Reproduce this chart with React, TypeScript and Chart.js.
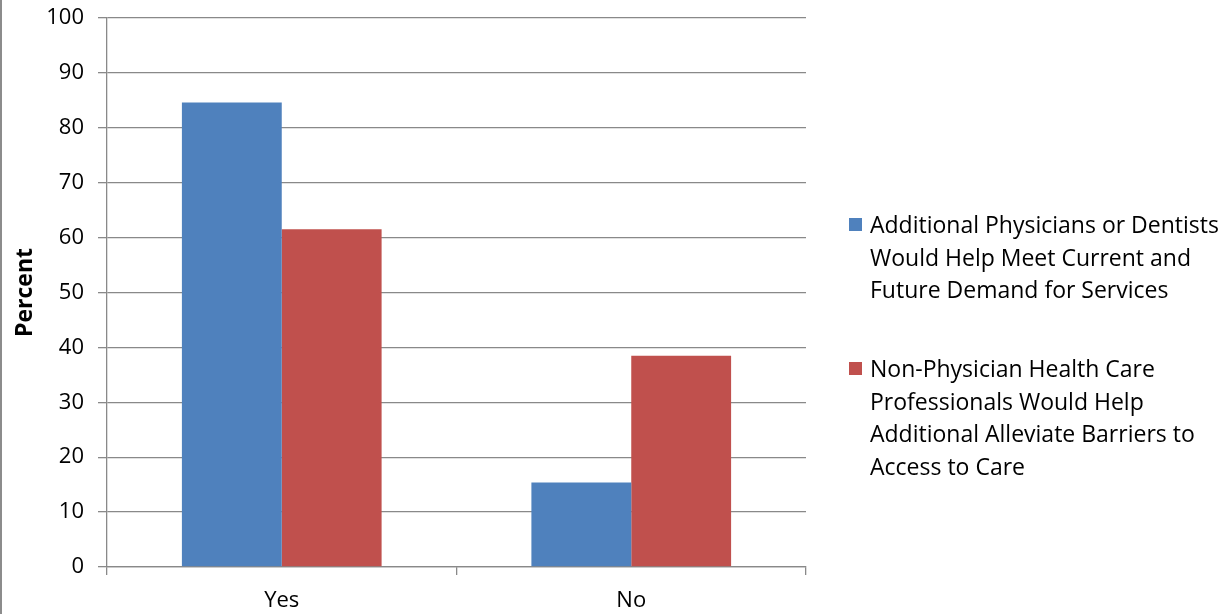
import React, { useEffect, useRef } from "react";
import { Chart, registerables } from "chart.js";

Chart.register(...registerables);

// Survey answers on the category axis
const categories = ["Yes", "No"];

// Percent of respondents per answer
const physiciansOrDentists = [84.6, 15.4];
const nonPhysicianProfessionals = [61.5, 38.5];

// Legend wording, one entry per series, already split into lines
const physiciansLabel = [
  "Additional Physicians or Dentists",
  "Would Help Meet Current and",
  "Future Demand for Services",
];
const nonPhysicianLabel = [
  "Non-Physician Health Care",
  "Professionals Would Help",
  "Additional Alleviate Barriers to",
  "Access to Care",
];

const seriesColors = ["#4F81BD", "#C0504D"];

// Value axis
const yMin = 0;
const yMax = 100;
const yStep = 10;
const yTitle = "Percent";

const FONT = "'Open Sans', 'DejaVu Sans', sans-serif";
const GRID = "#898989";

export default function App() {
  const canvasRef = useRef<HTMLCanvasElement | null>(null);

  useEffect(() => {
    const canvas = canvasRef.current;
    if (!canvas) return;
    const chart = new Chart(canvas, {
      type: "bar",
      data: {
        labels: categories,
        datasets: [
          {
            label: physiciansLabel.join(" "),
            data: physiciansOrDentists,
            backgroundColor: seriesColors[0],
            categoryPercentage: 0.5714,
            barPercentage: 1,
          },
          {
            label: nonPhysicianLabel.join(" "),
            data: nonPhysicianProfessionals,
            backgroundColor: seriesColors[1],
            categoryPercentage: 0.5714,
            barPercentage: 1,
          },
        ],
      },
      options: {
        responsive: false,
        maintainAspectRatio: false,
        animation: false,
        layout: { padding: { top: 18, right: 424, left: 0, bottom: 0 } },
        plugins: {
          legend: { display: false },
          tooltip: { enabled: false },
        },
        scales: {
          x: {
            grid: {
              offset: true,
              drawOnChartArea: false,
              drawTicks: true,
              tickLength: 8,
              color: GRID,
              lineWidth: 1.3,
            },
            border: { color: GRID, width: 1.3 },
            ticks: {
              color: "#000",
              padding: 13,
              font: { family: FONT, size: 22 },
            },
            afterFit: (scale: any) => {
              scale.height = 47;
              scale.paddingLeft = 0;
              scale.paddingRight = 0;
            },
          },
          y: {
            min: yMin,
            max: yMax,
            ticks: {
              stepSize: yStep,
              color: "#000",
              padding: 14,
              font: { family: FONT, size: 22 },
            },
            grid: {
              color: GRID,
              lineWidth: 1.3,
              tickLength: 9,
            },
            border: { color: GRID, width: 1.3 },
            title: {
              display: true,
              text: yTitle,
              color: "#000",
              padding: { top: 12, bottom: 0 },
              font: { family: FONT, size: 23, weight: "bold" },
            },
            afterFit: (scale: any) => {
              scale.width = 107;
              scale.paddingTop = 0;
              scale.paddingBottom = 0;
            },
          },
        },
      },
    });
    return () => chart.destroy();
  }, []);

  const legendEntries = [
    { lines: physiciansLabel, color: seriesColors[0], top: 208 },
    { lines: nonPhysicianLabel, color: seriesColors[1], top: 352 },
  ];

  return (
    <div
      style={{
        position: "absolute",
        left: 0,
        top: 0,
        width: 1230,
        height: 614,
        background: "#fff",
        overflow: "hidden",
      }}
    >
      <canvas
        ref={canvasRef}
        width={1230}
        height={614}
        style={{ position: "absolute", left: 0, top: 0 }}
      />
      <div
        style={{
          position: "absolute",
          left: 0,
          top: 0,
          width: 2,
          height: 614,
          background: "#8c8c8c",
        }}
      />
      {legendEntries.map((entry, i) => (
        <div
          key={i}
          style={{
            position: "absolute",
            left: 849,
            top: entry.top,
            fontFamily: FONT,
            fontSize: 23,
            lineHeight: "32.5px",
            color: "#000",
            whiteSpace: "nowrap",
          }}
        >
          <span
            style={{
              position: "absolute",
              left: 0,
              top: 10,
              width: 13,
              height: 13,
              background: entry.color,
            }}
          />
          <div style={{ marginLeft: 21 }}>
            {entry.lines.map((line, j) => (
              <div key={j}>{line}</div>
            ))}
          </div>
        </div>
      ))}
    </div>
  );
}
